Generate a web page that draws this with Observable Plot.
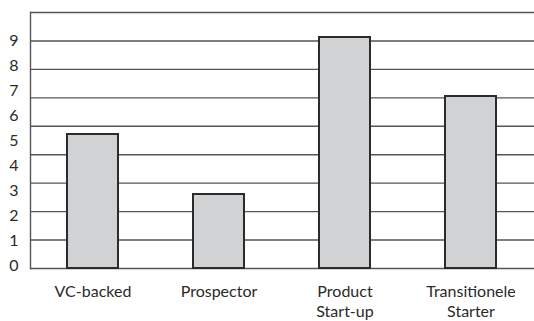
<!DOCTYPE html>
<html>
<head>
<meta charset="utf-8">
<script src="https://cdn.jsdelivr.net/npm/d3@7"></script>
<script src="https://cdn.jsdelivr.net/npm/@observablehq/plot@0.6"></script>
<style>
  html, body { margin: 0; padding: 0; background: #fff; }
  svg { display: block; }
</style>
</head>
<body>
<div id="chart"></div>
<script>
const categories = ["VC-backed", "Prospector", "Product\nStart-up", "Transitionele\nStarter"];
const values = [5.36, 2.96, 9.24, 6.88];
const yTicks = [0, 1, 2, 3, 4, 5, 6, 7, 8, 9];
// gridlines in the original are evenly spaced across the plot, not at tick values
const gridLines = d3.range(0, 10).map(i => i * 10.24 / 9);

const data = categories.map((c, i) => ({category: c, value: values[i]}));

const chart = Plot.plot({
  width: 534,
  height: 321,
  marginLeft: 30,
  marginRight: 0,
  marginTop: 12,
  marginBottom: 53,
  style: {fontFamily: "Lato, sans-serif", color: "#2a2a2a"},
  x: {domain: categories, paddingInner: 0.595, paddingOuter: 0.2975, label: null},
  y: {domain: [0, 10.24], label: null},
  marks: [
    Plot.ruleY(gridLines, {stroke: "#555", strokeWidth: 1.4, strokeOpacity: 1}),
    Plot.frame({anchor: "left", stroke: "#555", strokeWidth: 1.4}),
    Plot.barY(data, {x: "category", y: "value", fill: "#d1d2d4", stroke: "#2b2b2b", strokeWidth: 2}),
    Plot.axisY({ticks: yTicks, tickSize: 0, tickPadding: 12, fontSize: 16, dy: -3, label: null}),
    Plot.axisX({tickSize: 0, tickPadding: 14, fontSize: 16, lineHeight: 1.25, label: null})
  ]
});
document.getElementById("chart").appendChild(chart);
</script>
</body>
</html>
